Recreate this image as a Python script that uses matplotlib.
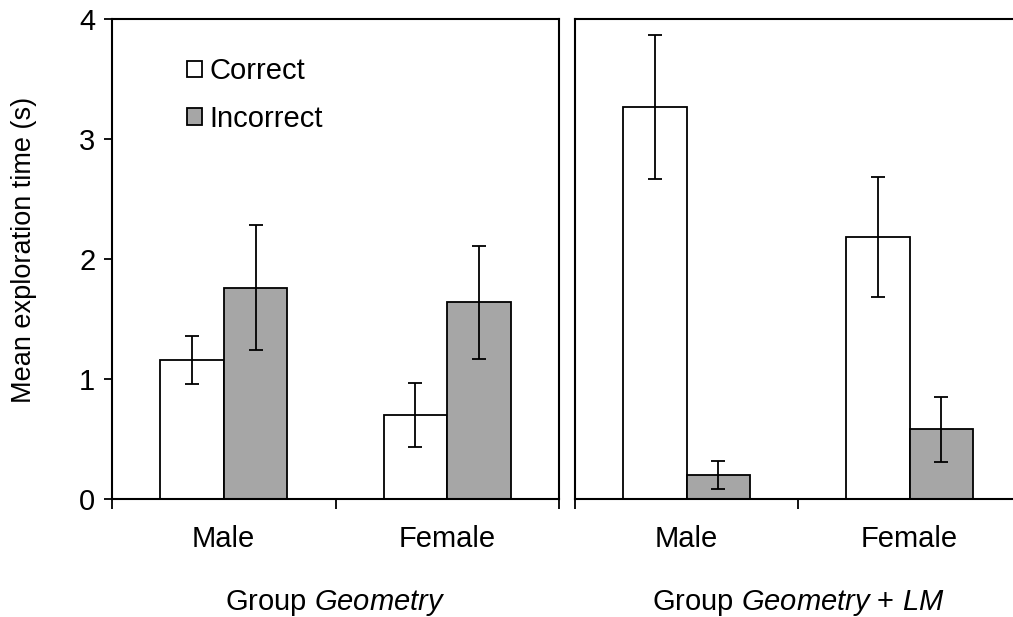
import matplotlib
matplotlib.use("Agg")
import matplotlib.pyplot as plt
import matplotlib.transforms as mtransforms
import numpy as np
from matplotlib.patches import Patch

plt.rcParams['font.family'] = ['Liberation Sans', 'DejaVu Sans']
plt.rcParams['mathtext.fontset'] = 'custom'
plt.rcParams['mathtext.rm'] = 'Liberation Sans'
plt.rcParams['mathtext.it'] = 'Liberation Sans:italic'

# data
categories = ['Male', 'Female']
groups = ['Group $\\mathit{Geometry}$', 'Group $\\mathit{Geometry}$ + $\\mathit{LM}$']
geo_correct = [1.16, 0.70]
geo_correct_err = [0.20, 0.27]
geo_incorrect = [1.76, 1.64]
geo_incorrect_err = [0.52, 0.47]
lm_correct = [3.27, 2.18]
lm_correct_err = [0.60, 0.50]
lm_incorrect = [0.20, 0.58]
lm_incorrect_err = [0.12, 0.27]

W, H = 1013, 617
fig = plt.figure(figsize=(W / 100, H / 100), dpi=100)
ax1 = fig.add_axes([112 / W, 1 - 499 / H, 447 / W, 480 / H])
ax2 = fig.add_axes([575 / W, 1 - 499 / H, 446 / W, 480 / H])

gray = '#a6a6a6'
bw = 0.285
fs = 21
x = np.arange(len(categories))

panels = [(ax1, geo_correct, geo_correct_err, geo_incorrect, geo_incorrect_err, groups[0]),
          (ax2, lm_correct, lm_correct_err, lm_incorrect, lm_incorrect_err, groups[1])]

for ax, c, ce, inc, ie, glabel in panels:
    ax.bar(x - bw / 2, c, bw, color='white', edgecolor='black', linewidth=1.3)
    ax.bar(x + bw / 2, inc, bw, color=gray, edgecolor='black', linewidth=1.3)
    ax.errorbar(x - bw / 2, c, yerr=ce, fmt='none', ecolor='black', elinewidth=1.3, capsize=5, capthick=1.3)
    ax.errorbar(x + bw / 2, inc, yerr=ie, fmt='none', ecolor='black', elinewidth=1.3, capsize=5, capthick=1.3)
    ax.set_xlim(-0.5, 1.5)
    ax.set_ylim(0, 4)
    # ticks between the categories, labels placed separately
    ax.set_xticks([-0.5, 0.5, 1.5])
    ax.set_xticklabels([])
    ax.tick_params(axis='x', which='major', direction='out', length=7.5, width=1.3)
    for s in ax.spines.values():
        s.set_linewidth(1.5)
    # category labels (baseline ~547px) and group label (baseline ~610px)
    tr = mtransforms.blended_transform_factory(ax.transData, fig.transFigure)
    for xi, cat in zip(x, categories):
        ax.text(xi, 1 - 547 / H, cat, transform=tr, ha='center', va='baseline', fontsize=fs)
    tr2 = mtransforms.blended_transform_factory(ax.transAxes, fig.transFigure)
    ax.text(0.5, 1 - 610 / H, glabel, transform=tr2, ha='center', va='baseline', fontsize=fs)

ax1.set_yticks([0, 1, 2, 3, 4])
ax1.tick_params(axis='y', direction='out', length=6, width=1.3, labelsize=fs, pad=6)
ax1.set_ylabel('Mean exploration time (s)', fontsize=19.5)
ax1.yaxis.set_label_coords(-0.168, 0.519)

ax2.spines['right'].set_visible(False)
ax2.set_yticks([])

handles = [Patch(facecolor='white', edgecolor='black', linewidth=1.3, label='Correct'),
           Patch(facecolor=gray, edgecolor='black', linewidth=1.3, label='Incorrect')]
ax1.legend(handles=handles, loc='upper left', bbox_to_anchor=(0.11, 0.975), frameon=False,
           fontsize=fs, handlelength=0.5, handleheight=0.5, handletextpad=0.25, labelspacing=0.68)

fig.savefig('out.png', dpi=100)
